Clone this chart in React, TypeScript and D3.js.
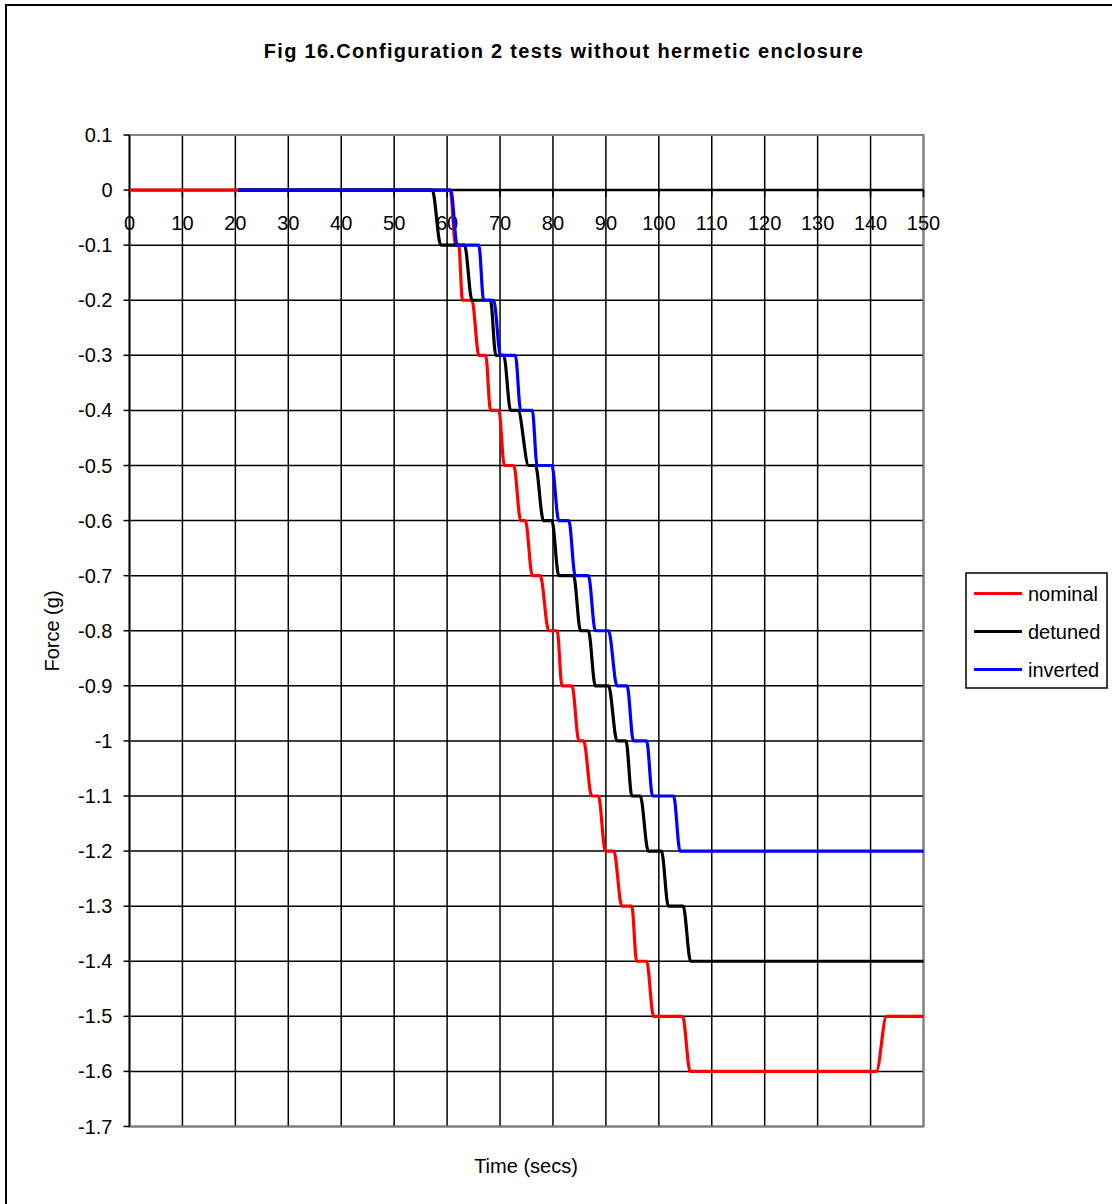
import React from 'react';
import * as d3 from 'd3';

const TITLE = 'Fig 16.Configuration 2 tests without hermetic enclosure';
const X_LABEL = 'Time (secs)';
const Y_LABEL = 'Force (g)';

const xTicks = [0, 10, 20, 30, 40, 50, 60, 70, 80, 90, 100, 110, 120, 130, 140, 150];
const yTicks = [0.1, 0, -0.1, -0.2, -0.3, -0.4, -0.5, -0.6, -0.7, -0.8, -0.9, -1.0, -1.1, -1.2, -1.3, -1.4, -1.5, -1.6, -1.7];
const yTickLabels = ['0.1', '0', '-0.1', '-0.2', '-0.3', '-0.4', '-0.5', '-0.6', '-0.7', '-0.8', '-0.9', '-1', '-1.1', '-1.2', '-1.3', '-1.4', '-1.5', '-1.6', '-1.7'];

const nominalT = [0, 60.6, 61.6, 62.2, 62.9, 64.7, 66.0, 67.3, 68.2, 69.8, 70.8, 72.6, 73.9, 74.8, 76.1, 77.6, 79.2, 80.8, 81.7, 83.6, 84.9, 85.8, 87.3, 88.6, 89.9, 91.5, 93.0, 94.9, 95.8, 97.7, 99.0, 104.5, 105.9, 141.1, 143.0, 150];
const nominalV = [0, 0, -0.1, -0.1, -0.2, -0.2, -0.3, -0.3, -0.4, -0.4, -0.5, -0.5, -0.6, -0.6, -0.7, -0.7, -0.8, -0.8, -0.9, -0.9, -1.0, -1.0, -1.1, -1.1, -1.2, -1.2, -1.3, -1.3, -1.4, -1.4, -1.5, -1.5, -1.6, -1.6, -1.5, -1.5];

const detunedT = [20.5, 57.2, 58.8, 63.3, 64.7, 68.2, 69.2, 70.7, 72.0, 73.4, 75.4, 76.7, 78.2, 79.8, 81.1, 83.9, 85.2, 86.7, 88.0, 90.5, 92.1, 93.8, 94.9, 96.5, 98.0, 100.5, 101.8, 104.6, 106.0, 150];
const detunedV = [0, 0, -0.1, -0.1, -0.2, -0.2, -0.3, -0.3, -0.4, -0.4, -0.5, -0.5, -0.6, -0.6, -0.7, -0.7, -0.8, -0.8, -0.9, -0.9, -1.0, -1.0, -1.1, -1.1, -1.2, -1.2, -1.3, -1.3, -1.4, -1.4];

const invertedT = [20.5, 60.7, 61.9, 66.0, 66.9, 68.8, 70.1, 72.9, 73.9, 76.1, 77.0, 79.8, 81.1, 83.0, 84.2, 86.7, 88.0, 90.5, 92.1, 94.0, 95.2, 97.7, 98.8, 102.8, 104.0, 150];
const invertedV = [0, 0, -0.1, -0.1, -0.2, -0.2, -0.3, -0.3, -0.4, -0.4, -0.5, -0.5, -0.6, -0.6, -0.7, -0.7, -0.8, -0.8, -0.9, -0.9, -1.0, -1.0, -1.1, -1.1, -1.2, -1.2];

const seriesNames = ['nominal', 'detuned', 'inverted'];
const seriesColors = ['#FF0000', '#000000', '#0000FF'];

const W = 1112;
const H = 1204;
const FONT = '"Liberation Sans", Arial, Helvetica, sans-serif';

export default function App() {
  const x = d3.scaleLinear().domain([0, 150]).range([129.5, 923.5]);
  const y = d3.scaleLinear().domain([-1.7, 0.1]).range([1126.5, 135]);

  const series = [
    { name: seriesNames[0], color: seriesColors[0], pts: nominalT.map((t, i) => [t, nominalV[i]] as [number, number]) },
    { name: seriesNames[1], color: seriesColors[1], pts: detunedT.map((t, i) => [t, detunedV[i]] as [number, number]) },
    { name: seriesNames[2], color: seriesColors[2], pts: invertedT.map((t, i) => [t, invertedV[i]] as [number, number]) },
  ];

  const line = d3
    .line<[number, number]>()
    .x((d) => x(d[0]))
    .y((d) => y(d[1]))
    .curve(d3.curveMonotoneX);

  const [x0, x1] = x.range();
  const [yb, yt] = y.range();
  const y0 = y(0);

  return (
    <svg
      width={W}
      height={H}
      style={{ position: 'absolute', left: 0, top: 0, background: '#fff' }}
      fontFamily={FONT}
    >
      <rect x={0} y={0} width={W} height={H} fill="#fff" />
      {/* outer chart border */}
      <rect x={6} y={5} width={1300} height={1400} fill="none" stroke="#000" strokeWidth={2} />

      {/* title */}
      <text x={564} y={58} textAnchor="middle" fontSize={20} fontWeight="bold" letterSpacing={1.3} fill="#000">
        {TITLE}
      </text>

      {/* horizontal gridlines */}
      {yTicks.map((v, i) => (
        <line key={'hg' + i} x1={x0} x2={x1} y1={y(v)} y2={y(v)} stroke="#000" strokeWidth={1.5} />
      ))}
      {/* vertical gridlines */}
      {xTicks.map((t, i) => (
        <line key={'vg' + i} x1={x(t)} x2={x(t)} y1={yt} y2={yb} stroke="#000" strokeWidth={1.5} />
      ))}
      {/* plot border */}
      <rect x={x0} y={yt} width={x1 - x0} height={yb - yt} fill="none" stroke="#808080" strokeWidth={2} />

      {/* y axis */}
      <line x1={x0} x2={x0} y1={yt} y2={yb} stroke="#000" strokeWidth={1.5} />
      {yTicks.map((v, i) => (
        <g key={'yt' + i}>
          <line x1={x0 - 6} x2={x0} y1={y(v)} y2={y(v)} stroke="#000" strokeWidth={1.5} />
          <text x={x0 - 17} y={y(v)} dy="0.35em" textAnchor="end" fontSize={20} fill="#000">
            {yTickLabels[i]}
          </text>
        </g>
      ))}

      {/* x axis at y = 0 */}
      <line x1={x0} x2={x1} y1={y0} y2={y0} stroke="#000" strokeWidth={2.5} />
      {xTicks.map((t, i) => (
        <g key={'xt' + i}>
          <line x1={x(t)} x2={x(t)} y1={y0} y2={y0 + 7} stroke="#000" strokeWidth={1.5} />
          <text x={x(t)} y={223} dy="0.35em" textAnchor="middle" fontSize={20} fill="#000">
            {String(t)}
          </text>
        </g>
      ))}

      {/* series */}
      {series.map((s) => (
        <path key={s.name} d={line(s.pts) || ''} fill="none" stroke={s.color} strokeWidth={3.2} strokeLinejoin="round" />
      ))}

      {/* axis titles */}
      <text x={526} y={1166} dy="0.35em" textAnchor="middle" fontSize={20} fill="#000">
        {X_LABEL}
      </text>
      <text
        transform={`translate(52,631) rotate(-90)`}
        dy="0.35em"
        textAnchor="middle"
        fontSize={20}
        fill="#000"
      >
        {Y_LABEL}
      </text>

      {/* legend */}
      <rect x={966} y={573} width={141} height={115} fill="#fff" stroke="#000" strokeWidth={1.5} />
      {series.map((s, i) => {
        const ly = 593.5 + i * 38;
        return (
          <g key={'lg' + s.name}>
            <line x1={974} x2={1022} y1={ly} y2={ly} stroke={s.color} strokeWidth={3.2} />
            <text x={1028} y={ly} dy="0.35em" fontSize={20} fill="#000">
              {s.name}
            </text>
          </g>
        );
      })}
    </svg>
  );
}
